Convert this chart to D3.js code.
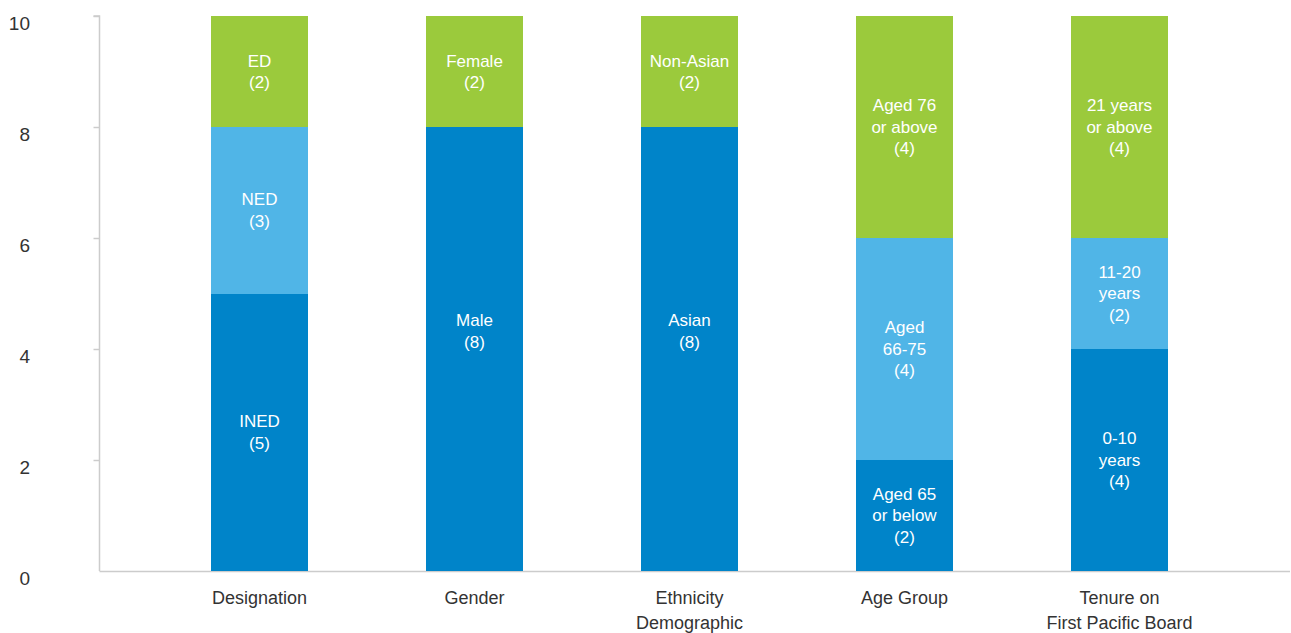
<!DOCTYPE html>
<html>
<head>
<meta charset="utf-8">
<script src="https://cdn.jsdelivr.net/npm/d3@7"></script>
<style>
  body { margin: 0; background: #fff; }
  svg text { font-family: "Liberation Sans", Arial, sans-serif; }
  .segtext { fill: #fff; font-size: 17px; text-anchor: middle; }
  .cattext { fill: #333; font-size: 18px; text-anchor: middle; }
  .ylab { fill: #333; font-size: 19px; }
  rect { shape-rendering: crispEdges; }
</style>
</head>
<body>
<svg id="chart" width="1291" height="633"></svg>
<script>
// categories along the x axis (multi-line labels)
var categories = ["Designation", "Gender", "Ethnicity Demographic", "Age Group", "Tenure on First Pacific Board"];
var categoryLines = [["Designation"], ["Gender"], ["Ethnicity", "Demographic"], ["Age Group"], ["Tenure on", "First Pacific Board"]];

// segment values, bottom / middle / top
var bottomValues = [5, 8, 8, 2, 4];
var middleValues = [3, 0, 0, 4, 2];
var topValues    = [2, 2, 2, 4, 4];

// segment labels (lines) per category
var bottomLabels = [["INED", "(5)"], ["Male", "(8)"], ["Asian", "(8)"], ["Aged 65", "or below", "(2)"], ["0-10", "years", "(4)"]];
var middleLabels = [["NED", "(3)"], [], [], ["Aged", "66-75", "(4)"], ["11-20", "years", "(2)"]];
var topLabels    = [["ED", "(2)"], ["Female", "(2)"], ["Non-Asian", "(2)"], ["Aged 76", "or above", "(4)"], ["21 years", "or above", "(4)"]];

var yTicks = [0, 2, 4, 6, 8, 10];

var colors = ["#0084c9", "#50b5e7", "#9bca3c"];

var svg = d3.select("#chart");

var x = d3.scaleBand()
    .domain(categories)
    .range([152, 1227])
    .paddingInner(0.55)
    .paddingOuter(0.275);

var y = d3.scaleLinear()
    .domain([0, 10])
    .range([571, 16]);

// build stacked rows
var rows = categories.map(function(c, i) {
    return { cat: c, bottom: bottomValues[i], middle: middleValues[i], top: topValues[i] };
});
var stack = d3.stack().keys(["bottom", "middle", "top"]);
var series = stack(rows);
var labelSets = [bottomLabels, middleLabels, topLabels];

// y axis
var yAxis = svg.append("g")
    .attr("transform", "translate(99.5,0)")
    .call(d3.axisLeft(y).tickValues(yTicks).tickSize(6));
yAxis.selectAll("path, line").attr("stroke", "#cccccc").attr("stroke-width", 1.5);
yAxis.select(".domain").attr("d", "M-6," + y(10) + "H0V" + y(0));
yAxis.selectAll(".tick line").filter(function(d) { return d === 0; }).remove();
yAxis.selectAll(".tick text")
    .attr("class", "ylab")
    .attr("x", -69.5)
    .attr("dy", "0.72em")
    .attr("text-anchor", "end")
    .attr("fill", null);
yAxis.attr("font-size", null).attr("font-family", null);

// x axis line
svg.append("line")
    .attr("x1", 99.5).attr("x2", 1290)
    .attr("y1", y(0) + 0.5).attr("y2", y(0) + 0.5)
    .attr("stroke", "#cccccc")
    .attr("stroke-width", 1.5);

// bars
series.forEach(function(s, k) {
    svg.append("g").selectAll("rect")
        .data(s)
        .enter().append("rect")
            .attr("x", function(d) { return x(d.data.cat); })
            .attr("y", function(d) { return y(d[1]); })
            .attr("width", x.bandwidth())
            .attr("height", function(d) { return y(d[0]) - y(d[1]); })
            .attr("fill", colors[k]);

    // segment labels
    s.forEach(function(d, i) {
        var lines = labelSets[k][i];
        if (!lines.length) return;
        var cy = (y(d[0]) + y(d[1])) / 2;
        if (k === 0 && bottomValues[i] === 8) cy -= 18;
        var lh = 21.5;
        var t = svg.append("text")
            .attr("class", "segtext")
            .attr("x", x(d.data.cat) + x.bandwidth() / 2)
            .attr("y", cy - (lines.length - 1) * lh / 2);
        lines.forEach(function(l, j) {
            t.append("tspan")
                .attr("x", x(d.data.cat) + x.bandwidth() / 2)
                .attr("dy", j === 0 ? "0.35em" : lh)
                .text(l);
        });
    });
});

// category labels
categories.forEach(function(c, i) {
    var t = svg.append("text")
        .attr("class", "cattext")
        .attr("x", x(c) + x.bandwidth() / 2)
        .attr("y", 604);
    categoryLines[i].forEach(function(l, j) {
        t.append("tspan")
            .attr("x", x(c) + x.bandwidth() / 2)
            .attr("dy", j === 0 ? 0 : 25)
            .text(l);
    });
});
</script>
</body>
</html>
